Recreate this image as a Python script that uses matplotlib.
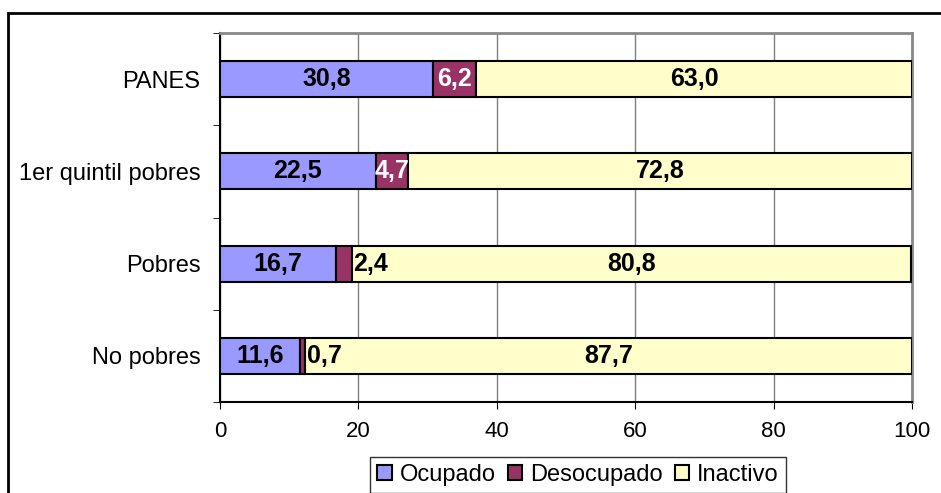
import matplotlib.pyplot as plt
import matplotlib.patches as mpatches

plt.rcParams["font.family"] = ["Liberation Sans", "DejaVu Sans"]

categories = ["No pobres", "Pobres", "1er quintil pobres", "PANES"]
ocupado = [11.6, 16.7, 22.5, 30.8]
desocupado = [0.7, 2.4, 4.7, 6.2]
inactivo = [87.7, 80.8, 72.8, 63.0]
series_names = ["Ocupado", "Desocupado", "Inactivo"]
colors = ["#9999FF", "#993366", "#FFFFCC"]

fig = plt.figure(figsize=(9.41, 4.93), dpi=100)
ax = fig.add_axes([220 / 941, 91 / 493, 692 / 941, 369 / 493])

y = list(range(len(categories)))
h = 0.39
left = [0] * len(categories)
for vals, name, col in zip([ocupado, desocupado, inactivo], series_names, colors):
    ax.barh(y, vals, height=h, left=left, color=col, edgecolor="black",
            linewidth=1.5, label=name, zorder=3)
    left = [l + v for l, v in zip(left, vals)]

fmt = lambda v: f"{v:.1f}".replace(".", ",")
lab = dict(va="center", fontsize=18, weight="bold", zorder=4)
for i in y:
    ax.text(ocupado[i] / 2, i, fmt(ocupado[i]), ha="center", **lab)
    d0 = ocupado[i]
    if desocupado[i] >= 4:
        ax.text(d0 + desocupado[i] / 2, i, fmt(desocupado[i]), ha="center",
                color="white", **lab)
    else:
        ax.text(d0 + desocupado[i] + 0.2, i, fmt(desocupado[i]), ha="left", **lab)
    i0 = ocupado[i] + desocupado[i]
    ax.text(i0 + inactivo[i] / 2, i, fmt(inactivo[i]), ha="center", **lab)

ax.set_xlim(0, 100)
ax.set_ylim(-0.5, len(categories) - 0.5)
ax.set_xticks(range(0, 101, 20))
ax.set_yticks(y)
ax.set_yticklabels(categories, fontsize=17)
ax.set_yticks([k - 0.5 for k in range(len(categories) + 1)], minor=True)
ax.tick_params(axis="y", which="major", length=0, pad=14)
ax.tick_params(axis="y", which="minor", length=5, direction="out")
ax.tick_params(axis="x", length=5, direction="out", labelsize=16, pad=9)
ax.grid(axis="x", color="#808080", linewidth=1, zorder=0)
for s in ["left", "bottom"]:
    ax.spines[s].set_color("black")
    ax.spines[s].set_linewidth(1.5)
for s in ["top", "right"]:
    ax.spines[s].set_color("#888888")
    ax.spines[s].set_linewidth(2)

# outer chart frame
fig.patches.append(mpatches.Rectangle((8 / 941, -0.1), 1.1, (493 - 13) / 493 + 0.1,
                                      transform=fig.transFigure, fill=False,
                                      edgecolor="black", linewidth=2))

leg = fig.legend(loc="lower center", bbox_to_anchor=(578 / 941, 0.0), ncol=3,
                 fontsize=17, frameon=True, fancybox=False, handlelength=0.6,
                 handleheight=0.6, handletextpad=0.35, columnspacing=0.5,
                 borderpad=0.3, borderaxespad=0.0)
leg.get_frame().set_edgecolor("black")
leg.get_frame().set_linewidth(1)

fig.savefig("out.png", dpi=100)
